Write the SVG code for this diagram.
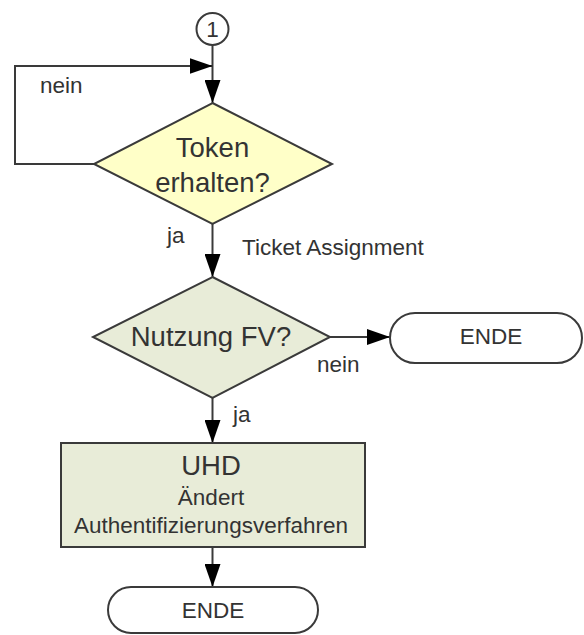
<svg xmlns="http://www.w3.org/2000/svg" width="584" height="635" viewBox="0 0 584 635">
<style>
text{font-family:"Liberation Sans",Arial,sans-serif;fill:#333}
.big{font-size:27.5px}
.sm{font-size:22.5px}
.mid{text-anchor:middle}
.ln{fill:none;stroke:#3a3a3a;stroke-width:2}
.shape{stroke:#3a3a3a;stroke-width:2}
</style>
<defs>
<marker id="ah" markerWidth="24" markerHeight="16" refX="23" refY="8" orient="auto" markerUnits="userSpaceOnUse">
<path d="M0,0 L23,8 L0,16 Z" fill="#000"/>
</marker>
</defs>
<rect width="584" height="635" fill="#fff"/>
<g id="connectors">
<line class="ln" x1="212.5" y1="45" x2="212.5" y2="103" marker-end="url(#ah)"/>
<polyline class="ln" points="95,164 15,164 15,66 212.5,66" marker-end="url(#ah)"/>
<line class="ln" x1="212.5" y1="224" x2="212.5" y2="277" marker-end="url(#ah)"/>
<line class="ln" x1="330" y1="337" x2="390" y2="337" marker-end="url(#ah)"/>
<line class="ln" x1="212.5" y1="398" x2="212.5" y2="443" marker-end="url(#ah)"/>
<line class="ln" x1="212.5" y1="547" x2="212.5" y2="587" marker-end="url(#ah)"/>
<text class="sm" x="40" y="93">nein</text>
<text class="sm" x="167" y="243">ja</text>
<text class="sm" x="242" y="255">Ticket Assignment</text>
<text class="sm" x="317" y="372">nein</text>
<text class="sm" x="233" y="422">ja</text>
</g>
<g id="start">
<circle class="shape" cx="212.5" cy="29" r="16" fill="#fff"/>
<text class="sm mid" x="212.5" y="37">1</text>
</g>
<g id="token">
<polygon class="shape" points="212.5,103 332,164 212.5,224 94,164" fill="#FFFFC8"/>
<text class="big mid" x="212.5" y="157">Token</text>
<text class="big mid" x="212.5" y="192">erhalten?</text>
</g>
<g id="nutzung">
<polygon class="shape" points="212.5,277 330,337 212.5,398 93,337" fill="#E8ECD8"/>
<text class="big mid" x="211" y="346">Nutzung FV?</text>
</g>
<g id="ende1">
<rect class="shape" x="390" y="313" width="192" height="50" rx="25" fill="#fff"/>
<text class="sm mid" x="491" y="344">ENDE</text>
</g>
<g id="uhd">
<rect class="shape" x="61" y="443" width="304" height="104" fill="#E8ECD8"/>
<text class="big mid" x="211" y="475">UHD</text>
<text class="sm mid" x="211" y="505">Ändert</text>
<text class="sm mid" x="211" y="533">Authentifizierungsverfahren</text>
</g>
<g id="ende2">
<rect class="shape" x="108" y="587" width="210" height="46" rx="23" fill="#fff"/>
<text class="sm mid" x="213" y="618">ENDE</text>
</g>
</svg>
